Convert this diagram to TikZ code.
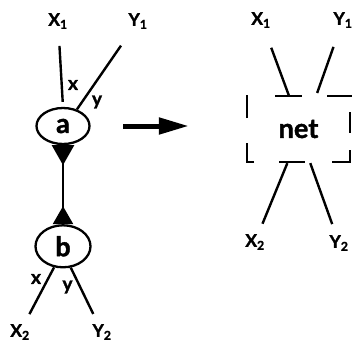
\documentclass[tikz,border=0pt]{standalone}
\usepackage{fontspec}
\setmainfont{Lato}[BoldFont={Lato Bold}, BoldFeatures={FakeBold=1.5}]
\usetikzlibrary{shapes.geometric, arrows.meta, positioning}

\begin{document}
\begin{tikzpicture}[x=1pt, y=-1pt,
  lab/.style={font=\bfseries\fontsize{17.5}{17.5}\selectfont, inner sep=1pt},
  edgelab/.style={font=\bfseries\fontsize{19}{19}\selectfont, inner sep=0pt},
  var/.style={ellipse, draw, line width=2.3pt, inner sep=0pt, font=\bfseries\fontsize{27}{27}\selectfont},
  wire/.style={line width=2.4pt},
  bigarrow/.style={line width=5pt, -{Triangle[length=30pt, width=16pt]}}]
\useasboundingbox (0,0) rectangle (352,342);
%\draw[red] (0,0) rectangle (352,342);

% left: the two variables
\node[var, minimum width=53pt, minimum height=36pt](a) at (63,126){a};
\node[var, minimum width=55pt, minimum height=42pt, below=79pt of a](b){b};
\node[lab](X1) at (58,21){X\textsubscript{1}};
\node[lab](Y1) at (138,21){Y\textsubscript{1}};
\node[lab](X2) at (20,332){X\textsubscript{2}};
\node[lab](Y2) at (102,332){Y\textsubscript{2}};
\draw[wire, shorten <=5pt, shorten >=16pt] (a.north) -- (X1);
\draw[wire, shorten >=19pt] (a.50) -- (Y1);
\draw[wire, shorten >=10pt] (b.-113) -- (X2);
\draw[wire, shorten >=10pt] (b.-70) -- (Y2);
\node[edgelab](xa) at (73,85){x};
\node[edgelab](ya) at (97,102){y};
\node[edgelab](xb) at (36,279){x};
\node[edgelab](yb) at (67.5,287){y};
\draw[wire, {Triangle[reversed, length=20pt, width=22pt]}-{Triangle[reversed, length=18pt, width=20pt]}] (a) -- (b);

% right: the net
\node[rectangle, minimum width=103pt, minimum height=66pt, inner sep=0pt, font=\bfseries\fontsize{27}{27}\selectfont](net) at (298.5,129){net};
\draw[wire] (254,162) -- (247,162) -- (247,143);
\draw[wire] (247,118) -- (247,95);
\draw[wire] (275,96) -- (302,96);
\draw[wire] (327,96) -- (352,96);
\draw[wire] (350,112) -- (350,133);
\draw[wire] (350,150) -- (350,162) -- (332,162);
\draw[wire] (279,162) -- (305,162);
\node[lab](X1r) at (261,20){X\textsubscript{1}};
\node[lab](Y1r) at (343,20){Y\textsubscript{1}};
\node[lab](X2r) at (255,242){X\textsubscript{2}};
\node[lab](Y2r) at (339,243){Y\textsubscript{2}};
\draw[wire, shorten >=20pt] (net.106) -- (X1r);
\draw[wire, shorten <=3pt, shorten >=19pt] (net.62) -- (Y1r);
\draw[wire, shorten <=1pt, shorten >=10pt] (net.-108) -- (X2r);
\draw[wire, shorten <=1pt, shorten >=10.5pt] (net.-71) -- (Y2r);

\draw[bigarrow, shorten <=32.5pt, shorten >=58pt] (a.east) -- (a.east -| net.west);

\end{tikzpicture}
\end{document}
